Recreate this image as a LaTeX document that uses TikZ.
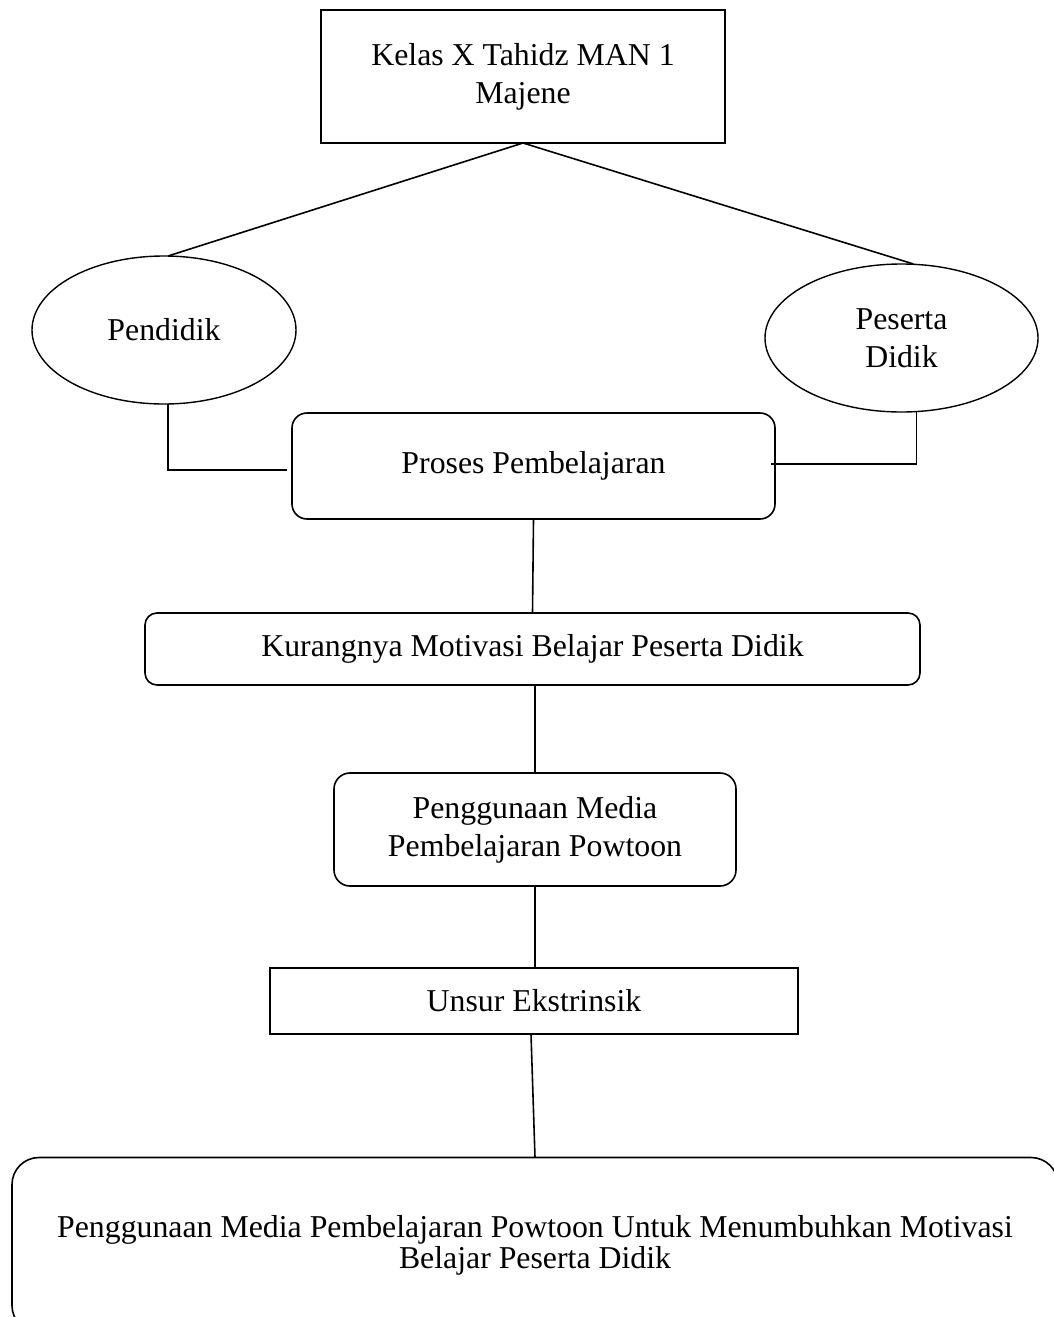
\documentclass[tikz,border=0pt]{standalone}
\usepackage{fontspec}
\setmainfont{Liberation Serif}
\usetikzlibrary{shapes.geometric,calc}
\begin{document}
\begin{tikzpicture}[x=1pt,y=-1pt,
  every node/.style={inner sep=0pt,outer sep=0pt,align=center,
    font=\fontsize{31.8}{38}\selectfont},
  sq/.style={draw,line width=1.6pt,rectangle},
  rbox/.style={draw,line width=1.6pt,rectangle,rounded corners=#1},
  oval/.style={draw,line width=1.4pt,ellipse},
  conn/.style={line width=1.6pt}]
\clip (0,0) rectangle (1054,1317);
\useasboundingbox (0,0) rectangle (1054,1317);
\node[sq,minimum width=404pt,minimum height=133pt] (top) at (523,76.5) {Kelas X Tahidz MAN 1\\Majene};
\node[oval,minimum width=264pt,minimum height=148pt] (pend) at (164,330) {Pendidik};
\node[oval,minimum width=273pt,minimum height=148pt] (pes) at (901.5,338) {Peserta\\Didik};
\node[rbox=15pt,minimum width=483pt,minimum height=106pt] (proses) at (533.5,466) {Proses Pembelajaran};
\node[rbox=12pt,minimum width=775pt,minimum height=72pt] (kur) at (532.5,649) {Kurangnya Motivasi Belajar Peserta Didik};
\node[rbox=16pt,minimum width=402pt,minimum height=113pt] (pmed) at (535,829.5) {Penggunaan Media\\Pembelajaran Powtoon};
\node[sq,minimum width=528pt,minimum height=66pt] (unsur) at (534,1001) {Unsur Ekstrinsik};
\node[rbox=27pt,minimum width=1046pt,minimum height=175pt,font=\fontsize{31.8}{31}\selectfont] (final) at (535,1245) {Penggunaan Media Pembelajaran Powtoon Untuk Menumbuhkan Motivasi\\Belajar Peserta Didik};
\draw[conn] (top.south) -- ([xshift=4pt]pend.north);
\draw[conn] (top.south) -- ([xshift=12pt]pes.north);
\draw[conn] ([xshift=4pt]pend.south) |- ([xshift=-5pt,yshift=-4pt]proses.west);
\draw[conn] ([xshift=15pt]pes.south) |- ([xshift=-4pt,yshift=2pt]proses.east);
\draw[conn] (proses.south) -- (kur.north);
\draw[conn] (pmed.north) -- (pmed.north |- kur.south);
\draw[conn] (pmed.south) -- (pmed.south |- unsur.north);
\draw[conn] ([xshift=-3pt]unsur.south) -- (final.north);
\end{tikzpicture}
\end{document}
